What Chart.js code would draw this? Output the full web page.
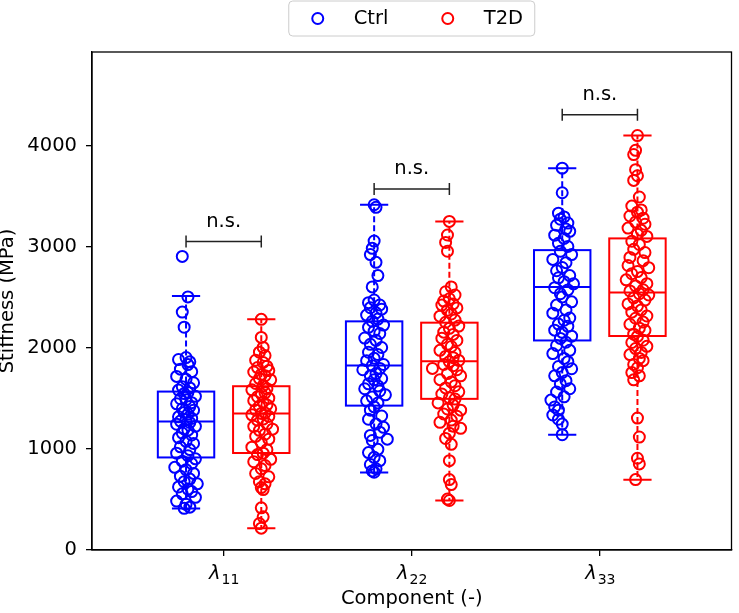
<!DOCTYPE html>
<html>
<head>
<meta charset="utf-8">
<script src="https://cdn.jsdelivr.net/npm/chart.js@4.4.0/dist/chart.umd.min.js"></script>
<style>
  html, body { margin: 0; padding: 0; background: #fff; }
  #wrap { width: 739px; height: 613px; position: relative; }
</style>
</head>
<body>
<div id="wrap"><canvas id="stiffChart"></canvas></div>
<script>
// Components on the x axis (drawn as λ with subscript)
const components = ["11", "22", "33"];
const groupNames = ["Ctrl", "T2D"];

// Box statistics: lower whisker, Q1, median, Q3, upper whisker
const ctrlLow  = [410, 767, 1141];
const ctrlQ1   = [916, 1429, 2074];
const ctrlMed  = [1273, 1826, 2604];
const ctrlQ3   = [1568, 2263, 2968];
const ctrlHigh = [2514, 3417, 3779];

const t2dLow  = [215, 489, 695];
const t2dQ1   = [960, 1496, 2118];
const t2dMed  = [1350, 1869, 2548];
const t2dQ3   = [1621, 2250, 3084];
const t2dHigh = [2283, 3252, 4102];

// Significance brackets (height in MPa) and their labels
const sigHeights = [3054, 3572, 4307];
const sigLabels = ["n.s.", "n.s.", "n.s."];

// Individual samples (MPa)
const ctrl11 = [2906, 2505, 2355, 2205, 1905, 1885, 1862, 1835, 1790, 1765, 1718, 1690, 1655, 1615,
  1604, 1583, 1560, 1548, 1521, 1497, 1486, 1458, 1447, 1420, 1398, 1383, 1362, 1345, 1318, 1302,
  1291, 1276, 1262, 1245, 1224, 1198, 1186, 1157, 1138, 1112, 1076, 1054, 1021, 994, 958, 933, 902,
  879, 856, 818, 795, 758, 731, 702, 676, 655, 624, 603, 578, 556, 521, 484, 452, 424, 412];
const t2d11 = [2283, 2104, 2005, 1958, 1925, 1878, 1856, 1818, 1806, 1776, 1762, 1738, 1725, 1697,
  1684, 1648, 1626, 1597, 1585, 1556, 1545, 1517, 1503, 1478, 1466, 1436, 1424, 1398, 1386, 1357,
  1352, 1338, 1322, 1296, 1285, 1247, 1224, 1196, 1184, 1146, 1125, 1097, 1064, 1018, 993, 958, 944,
  897, 874, 836, 804, 757, 724, 676, 655, 618, 598, 417, 328, 262, 216];
const ctrl22 = [3417, 3392, 3058, 2986, 2924, 2847, 2716, 2604, 2474, 2448, 2425, 2398, 2384, 2347,
  2325, 2286, 2264, 2226, 2204, 2166, 2143, 2098, 2075, 2036, 2004, 1957, 1934, 1898, 1874, 1836,
  1824, 1797, 1784, 1746, 1724, 1697, 1684, 1645, 1624, 1596, 1574, 1536, 1514, 1476, 1455, 1417,
  1384, 1326, 1294, 1246, 1214, 1166, 1134, 1097, 1084, 996, 964, 917, 884, 846, 804, 783, 770];
const t2d22 = [3252, 3118, 3044, 2957, 2604, 2556, 2524, 2487, 2464, 2436, 2424, 2396, 2374, 2336,
  2314, 2276, 2254, 2216, 2194, 2156, 2134, 2096, 2074, 2036, 2014, 1976, 1954, 1916, 1904, 1876,
  1864, 1836, 1824, 1797, 1784, 1746, 1724, 1686, 1664, 1626, 1604, 1566, 1544, 1506, 1494, 1456,
  1434, 1396, 1384, 1346, 1324, 1286, 1264, 1226, 1204, 1156, 1104, 1046, 884, 697, 648, 504, 490];
const ctrl33 = [3779, 3536, 3334, 3297, 3274, 3236, 3214, 3176, 3154, 3116, 3084, 3036, 3004, 2956,
  2924, 2876, 2844, 2796, 2764, 2716, 2694, 2656, 2634, 2596, 2574, 2536, 2504, 2456, 2424, 2376,
  2344, 2296, 2274, 2236, 2214, 2176, 2154, 2116, 2094, 2056, 2024, 1976, 1944, 1896, 1864, 1816,
  1794, 1756, 1724, 1676, 1644, 1596, 1564, 1516, 1484, 1416, 1384, 1336, 1294, 1246, 1141];
const t2d33 = [4102, 3956, 3914, 3764, 3704, 3658, 3494, 3404, 3366, 3344, 3306, 3284, 3246, 3224,
  3186, 3164, 3126, 3104, 3056, 3024, 2976, 2944, 2896, 2864, 2816, 2794, 2756, 2734, 2696, 2674,
  2636, 2614, 2576, 2564, 2536, 2524, 2496, 2474, 2436, 2414, 2376, 2354, 2316, 2294, 2256, 2234,
  2196, 2174, 2136, 2114, 2076, 2054, 2016, 1994, 1956, 1934, 1896, 1874, 1836, 1804, 1756, 1724,
  1684, 1306, 1118, 908, 852, 697];

// Horizontal scatter of each sample (in category units)
const ctrl11Jit = [-0.02, 0.01, -0.02, -0.01, 0.00, -0.04, 0.02, 0.01, -0.03, 0.03, -0.05, 0.00, 0.04, -0.02,
  0.02, -0.04, 0.01, -0.01, 0.05, -0.03, 0.00, 0.03, -0.05, 0.02, -0.02, 0.04, -0.01, 0.01, -0.04, 0.03,
  0.00, -0.03, 0.02, -0.05, 0.05, -0.01, 0.01, -0.02, 0.03, -0.04, 0.00, 0.04, -0.03, 0.02, -0.05, 0.01,
  0.05, -0.02, 0.03, -0.06, 0.00, 0.04, -0.03, 0.02, -0.01, 0.06, -0.04, 0.01, 0.03, -0.02, 0.05, -0.05, 0.00, 0.02, -0.01];
const t2d11Jit = [0.00, 0.00, 0.01, -0.01, 0.02, -0.03, 0.01, 0.03, -0.02, 0.04, -0.04, 0.00, 0.02, -0.01, 0.05, -0.03, 0.01, 0.03, -0.05, 0.02,
  0.00, -0.02, 0.04, -0.04, 0.01, 0.03, -0.01, 0.05, -0.03, 0.02, 0.00, -0.05, 0.04, 0.01, -0.02, 0.03, -0.04, 0.06, -0.01, 0.02,
  -0.03, 0.04, 0.00, -0.05, 0.03, 0.01, -0.02, 0.05, -0.04, 0.02, 0.00, -0.03, 0.04, -0.01, 0.02, 0.00, 0.01, 0.00, 0.01, -0.01, 0.00];
const ctrl22Jit = [0.00, 0.01, 0.00, -0.01, -0.02, 0.01, 0.02, -0.01, 0.00, -0.03, 0.03, -0.02, 0.04, 0.01, -0.04, 0.02, -0.01, 0.05, -0.03, 0.00,
  0.03, -0.05, 0.01, -0.02, 0.04, -0.03, 0.02, 0.00, -0.04, 0.05, -0.01, 0.03, -0.06, 0.01, -0.02, 0.04, 0.00, -0.03, 0.02, -0.05,
  0.03, 0.06, -0.01, -0.04, 0.02, 0.00, -0.02, 0.04, -0.03, 0.01, 0.05, 0.03, -0.02, 0.07, -0.01, 0.02, -0.03, 0.00, 0.03, -0.02,
  0.01, -0.01, 0.00];
const t2d22Jit = [0.00, -0.01, -0.02, -0.01, 0.01, -0.02, 0.03, 0.00, -0.03, 0.02, -0.04, 0.04, -0.01, 0.01, -0.05, 0.03, -0.02, 0.05, 0.00, -0.03,
  0.02, -0.04, 0.04, -0.01, 0.01, -0.05, 0.03, -0.02, 0.02, 0.05, 0.00, -0.03, 0.02, -0.09, 0.04, -0.01, 0.06, -0.05, 0.01, 0.03,
  -0.02, 0.05, -0.04, 0.00, 0.03, -0.06, 0.02, -0.01, 0.06, -0.03, 0.04, 0.01, -0.05, 0.02, 0.06, 0.00, -0.02, 0.01, 0.00, 0.00,
  0.01, -0.01, 0.00];
const ctrl33Jit = [0.00, 0.00, -0.02, 0.01, -0.01, 0.03, -0.03, 0.02, 0.04, -0.04, 0.01, -0.02, 0.03, -0.01, 0.05, -0.05, 0.02, 0.00, -0.03, 0.04,
  -0.02, 0.01, 0.06, -0.04, 0.03, -0.01, 0.00, 0.05, -0.03, 0.02, -0.05, 0.04, 0.01, -0.02, 0.03, -0.04, 0.00, 0.05, -0.01, 0.02,
  -0.03, 0.04, -0.05, 0.01, 0.03, -0.02, 0.05, 0.00, -0.04, 0.02, -0.01, 0.04, -0.03, 0.01, -0.06, -0.04, -0.02, -0.05, -0.02, 0.00,
  0.00];
const t2d33Jit = [0.00, -0.01, -0.02, -0.01, 0.00, -0.02, 0.01, -0.03, 0.02, 0.00, -0.04, 0.03, -0.01, 0.04, -0.05, 0.02, 0.00, 0.05, -0.03, 0.01,
  -0.02, 0.04, -0.04, 0.03, -0.05, 0.06, 0.00, -0.03, 0.02, -0.06, 0.05, -0.01, 0.03, -0.04, 0.01, 0.06, -0.02, 0.04, -0.05, 0.00,
  0.02, -0.03, 0.05, -0.01, 0.03, -0.04, 0.01, 0.04, -0.02, 0.00, 0.03, -0.03, 0.05, -0.01, 0.02, -0.04, 0.01, 0.03, -0.02, 0.00,
  -0.03, 0.01, -0.02, 0.00, 0.01, 0.00, 0.01, -0.01];

const FONT = "'DejaVu Sans', sans-serif";
const FS = 19.5;
const CTRL_COLOR = "#0000ff";
const T2D_COLOR = "#ff0000";
const GROUP_SHIFT = 0.2;   // distance of each group from the component tick
const BOX_HALF = 0.15;     // half box width in category units

const groups = [
  { name: groupNames[0], color: CTRL_COLOR, shift: -GROUP_SHIFT,
    low: ctrlLow, q1: ctrlQ1, med: ctrlMed, q3: ctrlQ3, high: ctrlHigh,
    values: [ctrl11, ctrl22, ctrl33], jitter: [ctrl11Jit, ctrl22Jit, ctrl33Jit] },
  { name: groupNames[1], color: T2D_COLOR, shift: GROUP_SHIFT,
    low: t2dLow, q1: t2dQ1, med: t2dMed, q3: t2dQ3, high: t2dHigh,
    values: [t2d11, t2d22, t2d33], jitter: [t2d11Jit, t2d22Jit, t2d33Jit] }
];

function buildPoints(g) {
  return g.values.flatMap((vals, i) =>
    vals.map((v, k) => ({ x: i + g.shift + (g.jitter[i][k] ?? 0), y: v })));
}

// Boxes, whiskers and caps drawn under the samples
const boxPlugin = {
  id: "boxes",
  beforeDatasetsDraw(chart) {
    const { ctx, scales: { x, y } } = chart;
    ctx.save();
    groups.forEach(g => {
      components.forEach((c, i) => {
        const cx = x.getPixelForValue(i + g.shift);
        const half = x.getPixelForValue(i + g.shift + BOX_HALF) - cx;
        const yLow = y.getPixelForValue(g.low[i]);
        const yQ1 = y.getPixelForValue(g.q1[i]);
        const yMed = y.getPixelForValue(g.med[i]);
        const yQ3 = y.getPixelForValue(g.q3[i]);
        const yHigh = y.getPixelForValue(g.high[i]);
        ctx.strokeStyle = g.color;
        ctx.lineWidth = 2;
        ctx.setLineDash([]);
        ctx.strokeRect(cx - half, yQ3, half * 2, yQ1 - yQ3);
        ctx.beginPath();
        ctx.moveTo(cx - half, yMed); ctx.lineTo(cx + half, yMed);
        // caps
        ctx.moveTo(cx - half / 2, yLow); ctx.lineTo(cx + half / 2, yLow);
        ctx.moveTo(cx - half / 2, yHigh); ctx.lineTo(cx + half / 2, yHigh);
        ctx.stroke();
        // dashed whiskers
        ctx.setLineDash([6, 3]);
        ctx.beginPath();
        ctx.moveTo(cx, yQ3); ctx.lineTo(cx, yHigh);
        ctx.moveTo(cx, yQ1); ctx.lineTo(cx, yLow);
        ctx.stroke();
      });
    });
    ctx.restore();
  }
};

// Frame, x tick labels, significance brackets and legend
const decorPlugin = {
  id: "decor",
  afterDraw(chart) {
    const { ctx, chartArea: a, scales: { x, y } } = chart;
    ctx.save();
    ctx.setLineDash([]);
    ctx.strokeStyle = "#000";
    ctx.lineWidth = 1.3;
    ctx.strokeRect(a.left, a.top, a.right - a.left, a.bottom - a.top);

    // λ tick labels
    ctx.fillStyle = "#000";
    ctx.textBaseline = "alphabetic";
    components.forEach((c, i) => {
      const px = x.getPixelForValue(i);
      ctx.font = "oblique " + FS + "px " + FONT;
      const wL = ctx.measureText("λ").width;
      ctx.font = (FS * 0.72) + "px " + FONT;
      const wS = ctx.measureText(c).width;
      const left = px - (wL + wS) / 2;
      ctx.font = "oblique " + FS + "px " + FONT;
      ctx.textAlign = "left";
      ctx.fillText("λ", left, a.bottom + 29);
      ctx.font = (FS * 0.72) + "px " + FONT;
      ctx.fillText(c, left + wL + 1, a.bottom + 34);
    });

    // significance brackets
    ctx.strokeStyle = "#222";
    ctx.lineWidth = 1.5;
    ctx.textAlign = "center";
    ctx.textBaseline = "middle";
    ctx.font = FS + "px " + FONT;
    sigHeights.forEach((h, i) => {
      const x1 = x.getPixelForValue(i - GROUP_SHIFT);
      const x2 = x.getPixelForValue(i + GROUP_SHIFT);
      const py = y.getPixelForValue(h);
      ctx.beginPath();
      ctx.moveTo(x1, py); ctx.lineTo(x2, py);
      ctx.moveTo(x1, py - 6); ctx.lineTo(x1, py + 6);
      ctx.moveTo(x2, py - 6); ctx.lineTo(x2, py + 6);
      ctx.stroke();
      ctx.fillStyle = "#000";
      ctx.fillText(sigLabels[i], (x1 + x2) / 2, py - 20);
    });

    // legend above the axes
    const mid = (a.left + a.right) / 2;
    const lw = 246, lh = 35, lx = mid - lw / 2, ly = 1;
    ctx.beginPath();
    ctx.roundRect(lx, ly, lw, lh, 4);
    ctx.fillStyle = "rgba(255,255,255,0.9)";
    ctx.fill();
    ctx.strokeStyle = "#cccccc";
    ctx.lineWidth = 1;
    ctx.stroke();
    ctx.textAlign = "left";
    ctx.textBaseline = "middle";
    groups.forEach((g, i) => {
      const cx = lx + 29 + i * 130;
      const cy = ly + lh / 2;
      ctx.beginPath();
      ctx.arc(cx, cy, 5.5, 0, Math.PI * 2);
      ctx.strokeStyle = g.color;
      ctx.lineWidth = 2;
      ctx.stroke();
      ctx.fillStyle = "#000";
      ctx.fillText(g.name, cx + 36, cy);
    });
    ctx.restore();
  }
};

new Chart(document.getElementById("stiffChart"), {
  type: "scatter",
  data: {
    datasets: groups.map(g => ({
      label: g.name,
      data: buildPoints(g),
      pointStyle: "circle",
      pointRadius: 5.5,
      pointBorderWidth: 2,
      pointBorderColor: g.color,
      pointBackgroundColor: "rgba(0,0,0,0)",
      pointHoverRadius: 5.5
    }))
  },
  options: {
    responsive: true,
    maintainAspectRatio: false,
    animation: false,
    layout: { padding: { top: 52, right: 1, left: 0, bottom: 0 } },
    plugins: { legend: { display: false }, tooltip: { enabled: false } },
    scales: {
      x: {
        type: "linear",
        min: -0.7,
        max: 2.7,
        afterBuildTicks: s => { s.ticks = components.map((c, i) => ({ value: i })); },
        afterFit: s => { s.height = 63; },
        ticks: { callback: () => "", font: { family: FONT, size: FS } },
        grid: { display: true, drawOnChartArea: false, drawTicks: true, tickLength: 6, color: "#000", lineWidth: 1.3 },
        border: { display: true, color: "#000", width: 1.3 },
        title: { display: true, text: "Component (-)", color: "#000",
                 font: { family: FONT, size: FS, lineHeight: 1 }, padding: { top: 0, bottom: 4 } }
      },
      y: {
        type: "linear",
        min: 0,
        max: 4929,
        afterBuildTicks: s => { s.ticks = [0, 1000, 2000, 3000, 4000].map(v => ({ value: v })); },
        afterFit: s => { s.width = 92; },
        ticks: { color: "#000", padding: 9, font: { family: FONT, size: FS }, callback: v => String(v) },
        grid: { display: true, drawOnChartArea: false, drawTicks: true, tickLength: 6, color: "#000", lineWidth: 1.3 },
        border: { display: true, color: "#000", width: 1.3 },
        title: { display: true, text: "Stiffness (MPa)", color: "#000",
                 font: { family: FONT, size: FS, lineHeight: 0.82 }, padding: { top: 0, bottom: 0 } }
      }
    }
  },
  plugins: [boxPlugin, decorPlugin]
});
</script>
</body>
</html>
